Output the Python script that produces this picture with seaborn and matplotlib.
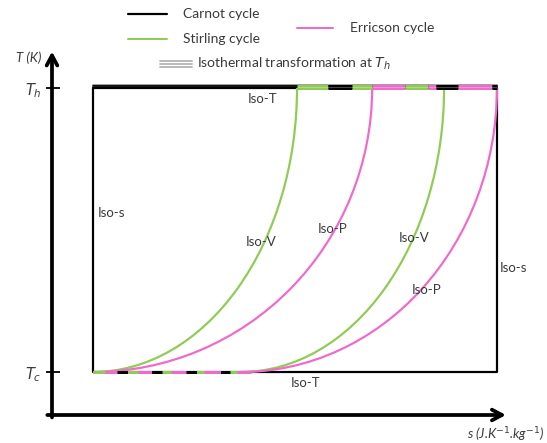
import numpy as np
import pandas as pd
import matplotlib
matplotlib.use("Agg")
import matplotlib.pyplot as plt
from matplotlib.patches import Arc
from matplotlib.lines import Line2D
import seaborn as sns

# ---------------- data (schematic T-s diagram) ----------------
T_c, T_h = 1.0, 8.0                     # cold / hot isotherms
carnot_s = [1.0, 11.0]                  # Carnot cycle entropy bounds
# Stirling (iso-V) and Ericsson (iso-P) branches: start s at T_c, end s at T_h
stirling_start = [1.0, 4.66]
stirling_end = [6.05, 9.69]
ericsson_start = [1.0, 4.66]
ericsson_end = [7.91, 11.0]
# coloured dash pieces seen on the hot isotherm (s_from, s_to, cycle)
top_pieces = [(6.05, 6.82, "Stirling"), (6.82, 7.41, "Carnot"), (7.41, 7.91, "Stirling"),
              (7.91, 8.72, "Ericsson"), (8.72, 9.29, "Stirling"), (9.29, 9.49, "Ericsson"),
              (9.49, 10.03, "Carnot"), (10.03, 10.88, "Ericsson"), (10.88, 11.0, "Carnot")]
bottom_mix = [1.0, 4.9]                 # mixed dashes on the cold isotherm
tick_vals = [T_c, T_h]
tick_labels = ["$T_c$", "$T_h$"]
labels = [("Iso-T", 5.2, 7.72), ("Iso-T", 6.25, 0.73), ("Iso-s", 1.45, 4.92),
          ("Iso-V", 5.16, 4.2), ("Iso-P", 6.94, 4.53), ("Iso-V", 8.95, 4.3),
          ("Iso-P", 9.27, 3.02), ("Iso-s", 11.4, 3.56)]

colors = {"Carnot": "black", "Stirling": "#8FCB55", "Ericsson": "#F06ACB"}
TXT = "#3a3a3a"

sns.set_theme(style="white")
plt.rcParams["font.family"] = ["Lato", "DejaVu Sans"]
plt.rcParams["mathtext.fontset"] = "dejavusans"

W, H = 547, 443
fig = plt.figure(figsize=(W / 100, H / 100), dpi=100)
ax = fig.add_axes([52.6 / W, (H - 415) / H, 454.5 / W, 363.5 / H])
ax.set_xlim(0, 11.25)
ax.set_ylim(-0.06, 8.9)
for sp in ax.spines.values():
    sp.set_visible(False)

PX = 0.72  # points per pixel
dy = 1 / 40.57  # data units per pixel (T)

# Carnot rectangle
rect = pd.DataFrame({"s": [carnot_s[0], carnot_s[0], carnot_s[1], carnot_s[1], carnot_s[0]],
                     "T": [T_h, T_c, T_c, T_h, T_h], "o": range(5)})
sns.lineplot(data=rect, x="s", y="T", sort=False, estimator=None, color="black",
             lw=2.2 * PX, ax=ax, legend=False, zorder=3)
# compound hot isotherm (Carnot part)
ax.plot(carnot_s, [T_h + 3 * dy] * 2, color="#8a8a8a", lw=1.6 * PX, zorder=3)
ax.plot(carnot_s, [T_h + 1.6 * dy] * 2, color="black", lw=1.8 * PX, zorder=3)

# Stirling / Ericsson curves as quarter ellipses
for s0, s1 in zip(stirling_start, stirling_end):
    ax.add_patch(Arc((s0, T_h), 2 * (s1 - s0), 2 * (T_h - T_c), theta1=270, theta2=360,
                     color=colors["Stirling"], lw=2.2 * PX, zorder=4))
for s0, s1 in zip(ericsson_start, ericsson_end):
    ax.add_patch(Arc((s0, T_h), 2 * (s1 - s0), 2 * (T_h - T_c), theta1=270, theta2=360,
                     color=colors["Ericsson"], lw=2.2 * PX, zorder=4))

# coloured pieces on the hot isotherm
for a, b, cyc in top_pieces:
    ax.plot([a, b], [T_h + 1.3 * dy] * 2, color=colors[cyc], lw=5 * PX,
            solid_capstyle="butt", zorder=5)
    ax.plot([a, b], [T_h + 1.3 * dy] * 2, color="white", lw=0.8 * PX, alpha=0.35,
            solid_capstyle="butt", zorder=6)

# mixed dashes on the cold isotherm
ax.plot(bottom_mix, [T_c, T_c], color=colors["Ericsson"], lw=3 * PX, zorder=5,
        solid_capstyle="butt")
ax.plot(bottom_mix, [T_c, T_c], color=colors["Stirling"], lw=3 * PX, zorder=6,
        dashes=(4, 7))
ax.plot([1.6, 4.4], [T_c, T_c], color="black", lw=3 * PX, zorder=7, dashes=(3.5, 8))

# axes arrows
ax.annotate("", xy=(11.22, -0.06), xytext=(-0.13, -0.06), xycoords="data",
            arrowprops=dict(arrowstyle="->,head_length=0.6,head_width=0.32", lw=2.7,
                            color="black", shrinkA=0, shrinkB=0), annotation_clip=False)
ax.annotate("", xy=(-0.015, 8.9), xytext=(-0.015, -0.12), xycoords="data",
            arrowprops=dict(arrowstyle="->,head_length=0.6,head_width=0.32", lw=2.7,
                            color="black", shrinkA=0, shrinkB=0), annotation_clip=False)

ax.set_xticks([])
ax.set_yticks(tick_vals)
ax.set_yticklabels(tick_labels, fontsize=10.5, color=TXT, fontstyle="italic")
ax.tick_params(axis="y", direction="inout", length=9.5, width=1.3, color="black", pad=3, left=True)
ax.set_xlabel("")
ax.set_ylabel("")

for txt, x, y in labels:
    ax.text(x, y, txt, fontsize=9.5, color=TXT, ha="center", va="center", zorder=8)

ax.text(-0.58, 8.74, "T (K)", fontsize=9.5, color=TXT, fontstyle="italic",
        ha="center", va="center")
ax.text(11.22, -0.55, "s (J.K$^{\\mathit{-1}}$.kg$^{\\mathit{-1}}$)", fontsize=9.5, color=TXT,
        fontstyle="italic", ha="center", va="center")

# legend (manual, scattered as in the reference)
def fx(px):
    return px / W
def fy(py):
    return 1 - py / H

fig.add_artist(Line2D([fx(128), fx(167)], [fy(14), fy(14)], color="black", lw=2.2 * PX))
fig.add_artist(Line2D([fx(128), fx(167)], [fy(39), fy(39)], color=colors["Stirling"], lw=2 * PX))
fig.add_artist(Line2D([fx(297), fx(333)], [fy(28), fy(28)], color=colors["Ericsson"], lw=2 * PX))
for off in (-3, 0, 3):
    fig.add_artist(Line2D([fx(160), fx(192)], [fy(64 + off), fy(64 + off)], color="#b4b4b4",
                          lw=1.8 * PX))
fig.text(fx(183), fy(14), "Carnot cycle", fontsize=10, color=TXT, va="center", ha="left")
fig.text(fx(183), fy(39), "Stirling cycle", fontsize=10, color=TXT, va="center", ha="left")
fig.text(fx(350), fy(28), "Erricson cycle", fontsize=10, color=TXT, va="center", ha="left")
fig.text(fx(197), fy(64), "Isothermal transformation at $T_h$", fontsize=10, color=TXT,
         va="center", ha="left")

fig.savefig("out.png", dpi=100, facecolor="white")
